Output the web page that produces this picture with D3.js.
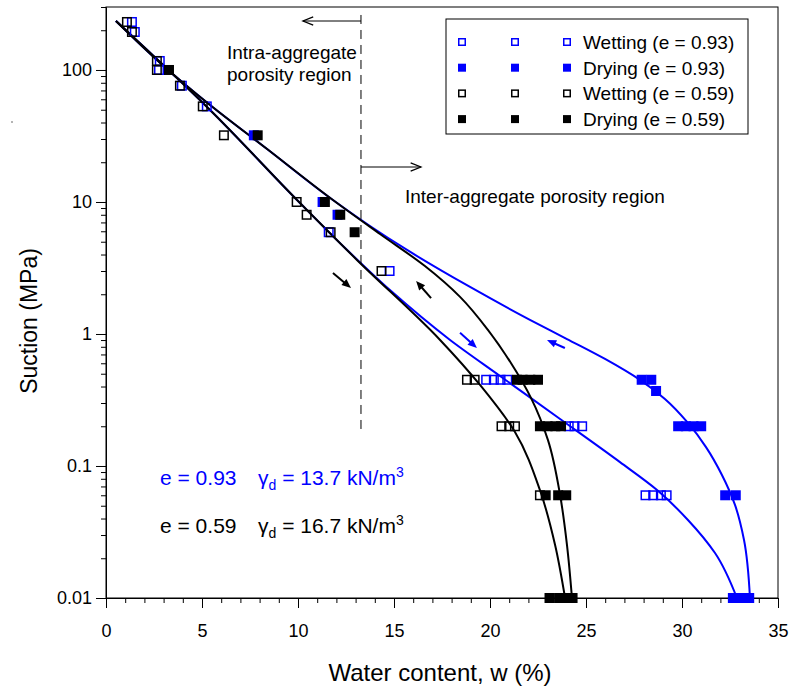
<!DOCTYPE html>
<html><head><meta charset="utf-8">
<script src="https://cdn.jsdelivr.net/npm/d3@7"></script>
<style>
body{margin:0;background:#fff;}
svg text{font-family:"Liberation Sans",Arial,sans-serif;}
</style></head>
<body><svg id="c" width="790" height="691"></svg>
<script>
// ---- data (water content %, suction MPa) ----
const wetBlueW = [1.35,1.5,2.8,2.76,3.95,5.25,11.6,14.77,19.8,20.2,20.55,20.9,24.1,24.4,24.8,28.1,28.5,28.9,29.2,32.8];
const wetBlueS = [231,194,117,100,76,53,5.9,3,0.45,0.45,0.45,0.45,0.2,0.2,0.2,0.06,0.06,0.06,0.06,0.01];
const dryBlueW = [7.7,11.28,12.06,27.9,28.4,28.65,29.8,30.2,30.6,31.0,32.25,32.8,32.65,33.1,33.5];
const dryBlueS = [32,10,8,0.45,0.45,0.37,0.2,0.2,0.2,0.2,0.06,0.06,0.01,0.01,0.01];
const wetBlackW = [1.09,1.35,2.65,2.65,3.85,5.04,6.14,9.93,10.45,11.7,14.35,18.8,19.2,20.6,21.0,21.3,22.6];
const wetBlackS = [231,194,117,100,76,53,32,10,8,5.9,3,0.45,0.45,0.2,0.2,0.2,0.06];
const dryBlackW = [3.28,7.9,11.4,12.2,12.95,21.4,21.7,22.1,22.5,22.6,23.0,23.4,23.7,22.9,23.55,23.97,23.1,23.6,24.0,24.3];
const dryBlackS = [100,32,10,8,5.9,0.45,0.45,0.45,0.45,0.2,0.2,0.2,0.2,0.06,0.06,0.06,0.01,0.01,0.01,0.01];

// fitted curves
const curveWetBlackW = [0.52,5.42,9.95,13.07,17.40,19.48,21.30,22.60,23.39,23.91];
const curveWetBlackS = [235,49.8,10.35,3.64,0.901,0.411,0.181,0.0658,0.0252,0.01];
const curveWetBlueW = [0.52,5.42,9.95,12.45,14.79,17.92,20.52,23.65,26.77,28.70,30.31,31.72,32.86];
const curveWetBlueS = [235,49.8,10.35,4.48,2.15,0.901,0.481,0.227,0.107,0.0658,0.039,0.0219,0.01];
const curveDryBlackW = [0.52,3.07,5.42,8.39,11.82,14.27,16.61,18.44,19.90,21.09,22.14,23.02,23.65,24.01,24.27];
const curveDryBlackS = [235,105,54.3,25.2,10.35,5.72,3.27,1.91,1.07,0.603,0.327,0.157,0.0603,0.0252,0.01];
const curveDryBlueW = [0.52,3.07,5.42,8.39,11.82,13.75,15.68,18.96,22.08,24.01,25.99,27.81,29.11,30.31,31.25,32.08,32.76,33.23,33.54];
const curveDryBlueS = [235,105,54.3,25.2,10.35,6.58,4.33,2.27,1.28,0.916,0.647,0.449,0.322,0.212,0.139,0.0855,0.0507,0.0275,0.01];

const xTicks = [0,5,10,15,20,25,30,35];
const yTicks = [0.01,0.1,1,10,100];
const yTickLabels = ["0.01","0.1","1","10","100"];
const legendLabels = ["Wetting (e = 0.93)","Drying (e = 0.93)","Wetting (e = 0.59)","Drying (e = 0.59)"];

const BLUE = "#0000ff", BLACK = "#000";
const svg = d3.select("#c");
const x = d3.scaleLinear().domain([0,35]).range([106,778]);
const y = d3.scaleLog().domain([0.01,300]).range([598,7]);
const zip = (a,b)=>a.map((v,i)=>[v,b[i]]);

// axes
const xAxis = d3.axisBottom(x).tickValues(xTicks).tickSize(10).tickSizeOuter(0).tickPadding(16).tickFormat(d3.format("d"));
svg.append("g").attr("transform","translate(0,598)").call(xAxis);
const xMinor = d3.range(0,36,1).filter(v=>v%5!==0);
svg.append("g").attr("transform","translate(0,598)")
  .call(d3.axisBottom(x).tickValues(xMinor).tickSize(5).tickSizeOuter(0).tickFormat(""));
const yAxis = d3.axisLeft(y).tickValues(yTicks).tickSize(10).tickSizeOuter(0).tickPadding(4).tickFormat((d,i)=>yTickLabels[i]);
svg.append("g").attr("transform","translate(106,0)").call(yAxis);
const yMinor = [];
yTicks.forEach(dec=>{for(let k=2;k<=9;k++){const v=dec*k; if(v<=300) yMinor.push(v);}});
svg.append("g").attr("transform","translate(106,0)")
  .call(d3.axisLeft(y).tickValues(yMinor).tickSize(5).tickSizeOuter(0).tickFormat(""));
svg.selectAll(".tick text").attr("font-size",18).attr("fill","#000").attr("font-family","Liberation Sans, Arial, sans-serif");
svg.selectAll(".domain,.tick line").attr("stroke","#000");
// frame
svg.append("rect").attr("x",106).attr("y",7).attr("width",672).attr("height",591)
  .attr("fill","none").attr("stroke","#000").attr("stroke-width",1);

// axis titles
svg.append("text").attr("x",440).attr("y",681).attr("text-anchor","middle").attr("font-size",24).text("Water content, w (%)");
svg.append("text").attr("transform","translate(37,321) rotate(-90)").attr("text-anchor","middle").attr("font-size",23).text("Suction (MPa)");
svg.append("circle").attr("cx",12).attr("cy",122).attr("r",0.8).attr("fill","#555");

// curves
const line = d3.line().x(d=>x(d[0])).y(d=>y(d[1])).curve(d3.curveMonotoneY);
const curves = [
  [zip(curveWetBlueW,curveWetBlueS),BLUE],
  [zip(curveDryBlueW,curveDryBlueS),BLUE],
  [zip(curveWetBlackW,curveWetBlackS),BLACK],
  [zip(curveDryBlackW,curveDryBlackS),BLACK]
];
curves.forEach(([pts,c])=>svg.append("path").attr("d",line(pts)).attr("fill","none").attr("stroke",c).attr("stroke-width",2));

// markers
const S=10;
function squares(w,s,color,filled){
  svg.append("g").selectAll("rect").data(zip(w,s)).join("rect")
    .attr("x",d=>x(d[0])-S/2+(filled?0:0.75)).attr("y",d=>y(d[1])-S/2+(filled?0:0.75))
    .attr("width",filled?S:S-1.5).attr("height",filled?S:S-1.5)
    .attr("fill",filled?color:"none").attr("stroke",filled?"none":color).attr("stroke-width",1.5);
}
squares(wetBlueW,wetBlueS,BLUE,false);
squares(dryBlueW,dryBlueS,BLUE,true);
squares(wetBlackW,wetBlackS,BLACK,false);
squares(dryBlackW,dryBlackS,BLACK,true);

// dashed boundary
const wBound = 13.28;
svg.append("line").attr("x1",x(wBound)).attr("x2",x(wBound)).attr("y1",y(261)).attr("y2",y(0.178))
  .attr("stroke","#000").attr("stroke-width",1).attr("stroke-dasharray","9,6");
// region arrows (open heads)
function openArrow(x1,y1,x2,y2){
  svg.append("line").attr("x1",x1).attr("y1",y1).attr("x2",x2).attr("y2",y2).attr("stroke","#000").attr("stroke-width",1);
  const a=Math.atan2(y2-y1,x2-x1), L=11, h=0.38;
  svg.append("path").attr("d",`M${x2-L*Math.cos(a-h)},${y2-L*Math.sin(a-h)}L${x2},${y2}L${x2-L*Math.cos(a+h)},${y2-L*Math.sin(a+h)}`)
    .attr("fill","none").attr("stroke","#000").attr("stroke-width",1.3);
}
openArrow(x(wBound),21,x(10.26),21);
openArrow(x(wBound),167,x(16.4),167);
svg.append("text").attr("x",227).attr("y",59).attr("font-size",19).text("Intra-aggregate");
svg.append("text").attr("x",227).attr("y",81).attr("font-size",19).text("porosity region");
svg.append("text").attr("x",405).attr("y",203).attr("font-size",19).text("Inter-aggregate porosity region");

// direction arrows (filled heads)
function fillArrow(w1,s1,w2,s2,color){
  const x1=x(w1),y1=y(s1),x2=x(w2),y2=y(s2);
  const a=Math.atan2(y2-y1,x2-x1), L=10, h=0.4;
  svg.append("line").attr("x1",x1).attr("y1",y1).attr("x2",x2-6*Math.cos(a)).attr("y2",y2-6*Math.sin(a))
    .attr("stroke",color).attr("stroke-width",2);
  svg.append("path").attr("d",`M${x2},${y2}L${x2-L*Math.cos(a-h)},${y2-L*Math.sin(a-h)}L${x2-L*Math.cos(a+h)},${y2-L*Math.sin(a+h)}Z`)
    .attr("fill",color);
}
fillArrow(11.82,2.9,12.76,2.23,BLACK);
fillArrow(16.93,1.87,16.15,2.52,BLACK);
fillArrow(18.44,1.02,19.32,0.783,BLUE);
fillArrow(23.9,0.783,22.97,0.9,BLUE);

// legend
svg.append("rect").attr("x",446).attr("y",19).attr("width",302).attr("height",115)
  .attr("fill","#fff").attr("stroke","#000").attr("stroke-width",1);
const legendStyle=[[BLUE,false],[BLUE,true],[BLACK,false],[BLACK,true]];
legendLabels.forEach((lab,i)=>{
  const cy=42+i*25.7, [c,f]=legendStyle[i], LS=8;
  [462,515,567].forEach(cx=>{
    svg.append("rect").attr("x",cx-LS/2+(f?0:0.75)).attr("y",cy-LS/2+(f?0:0.75))
      .attr("width",f?LS:LS-1.5).attr("height",f?LS:LS-1.5)
      .attr("fill",f?c:"none").attr("stroke",f?"none":c).attr("stroke-width",1.5);
  });
  svg.append("text").attr("x",583).attr("y",cy+7).attr("font-size",19).text(lab);
});

// annotations
function anno(yb,color,e,g){
  const t=svg.append("text").attr("x",160).attr("y",yb).attr("font-size",21).attr("fill",color);
  t.append("tspan").text(e);
  t.append("tspan").attr("x",258).text("γ");
  t.append("tspan").attr("dy",5).attr("font-size",14).text("d");
  t.append("tspan").attr("dy",-5).text(" = "+g+" kN/m");
  t.append("tspan").attr("dy",-8).attr("font-size",14).text("3");
}
anno(485,BLUE,"e = 0.93","13.7");
anno(533,BLACK,"e = 0.59","16.7");
</script></body></html>
